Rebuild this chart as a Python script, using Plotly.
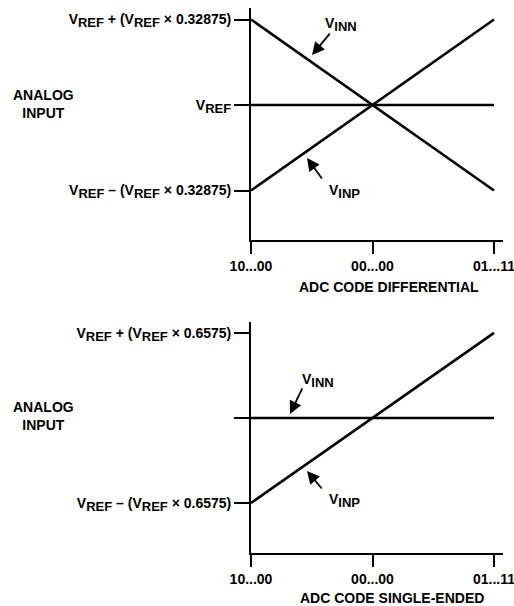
import plotly.graph_objects as go

W, H = 514, 606

# ---- data ----
codes = [-1, 0, 1]
code_labels = ["10...00", "00...00", "01...11"]

diff_vinn = [0.32875, 0.0, -0.32875]
diff_vinp = [-0.32875, 0.0, 0.32875]
diff_vref = [0.0, 0.0, 0.0]

se_vinn = [0.0, 0.0, 0.0]
se_vinp = [-0.6575, 0.0, 0.6575]

diff_ticks = [-0.32875, 0.0, 0.32875]
se_ticks = [-0.6575, 0.0, 0.6575]

SUB = lambda s: "<sub><span style='font-size:13px'>%s</span></sub>" % s
VREF = "V" + SUB("REF")
diff_ticktext = [VREF + " – (" + VREF + " × 0.32875)", VREF, VREF + " + (" + VREF + " × 0.32875)"]
se_ticktext = [VREF + " – (" + VREF + " × 0.6575)", "", VREF + " + (" + VREF + " × 0.6575)"]


def px(x):
    return x / W


def py(y):
    return 1 - y / H


FONT = dict(family="Liberation Sans, Arial, Helvetica, sans-serif", size=14, color="black", weight="bold")
LINE = dict(color="black", width=2.6)

fig = go.Figure()
fig.add_trace(go.Scatter(x=codes, y=diff_vinn, mode="lines", line=LINE, xaxis="x", yaxis="y"))
fig.add_trace(go.Scatter(x=codes, y=diff_vinp, mode="lines", line=LINE, xaxis="x", yaxis="y"))
fig.add_trace(go.Scatter(x=codes, y=diff_vref, mode="lines", line=LINE, xaxis="x", yaxis="y"))
fig.add_trace(go.Scatter(x=codes, y=se_vinn, mode="lines", line=LINE, xaxis="x2", yaxis="y2"))
fig.add_trace(go.Scatter(x=codes, y=se_vinp, mode="lines", line=LINE, xaxis="x2", yaxis="y2"))

ax_common = dict(showline=True, linewidth=2, linecolor="black", showgrid=False, zeroline=False,
                 ticks="outside", tickwidth=2, tickcolor="black", tickfont=FONT, fixedrange=True,
                 automargin=False, ticklabeloverflow="allow")

fig.update_layout(
    template="none",
    width=W, height=H, margin=dict(l=0, r=0, t=0, b=0, pad=0), autosize=False,
    paper_bgcolor="white", plot_bgcolor="white", showlegend=False,
    font=FONT, hovermode=False,
    xaxis=dict(domain=[px(251), px(503)], range=[-1, 1.074], anchor="y",
               tickvals=codes, ticktext=code_labels, ticklen=12, **ax_common),
    yaxis=dict(domain=[py(240), py(8)], range=[-0.519, 0.373], anchor="x",
               tickvals=diff_ticks, ticktext=diff_ticktext, ticklen=15, **ax_common),
    xaxis2=dict(domain=[px(251), px(503)], range=[-1, 1.074], anchor="y2",
                tickvals=codes, ticktext=code_labels, ticklen=12, **ax_common),
    yaxis2=dict(domain=[py(553), py(322)], range=[-1.044, 0.742], anchor="x2",
                tickvals=se_ticks, ticktext=se_ticktext, ticklen=15, **ax_common),
)

ann = []
# side labels
ann.append(dict(text="ANALOG<br>INPUT", x=px(43), y=py(104), xref="paper", yref="paper",
                showarrow=False, xanchor="center", yanchor="middle", font=FONT))
ann.append(dict(text="ANALOG<br>INPUT", x=px(43), y=py(416), xref="paper", yref="paper",
                showarrow=False, xanchor="center", yanchor="middle", font=FONT))
# axis titles
ann.append(dict(text="ADC CODE DIFFERENTIAL", x=px(389), y=py(287), xref="paper", yref="paper",
                showarrow=False, xanchor="center", yanchor="middle", font=FONT))
ann.append(dict(text="ADC CODE SINGLE-ENDED", x=px(392), y=py(598), xref="paper", yref="paper",
                showarrow=False, xanchor="center", yanchor="middle", font=FONT))
# series labels
ann.append(dict(text="V" + SUB("INN"), x=px(323), y=py(24), xref="paper", yref="paper",
                showarrow=False, xanchor="left", yanchor="middle", font=FONT))
ann.append(dict(text="V" + SUB("INP"), x=px(327), y=py(191), xref="paper", yref="paper",
                showarrow=False, xanchor="left", yanchor="middle", font=FONT))
ann.append(dict(text="V" + SUB("INN"), x=px(300), y=py(380), xref="paper", yref="paper",
                showarrow=False, xanchor="left", yanchor="middle", font=FONT))
ann.append(dict(text="V" + SUB("INP"), x=px(327), y=py(500), xref="paper", yref="paper",
                showarrow=False, xanchor="left", yanchor="middle", font=FONT))
# arrows
arrow = dict(text="", showarrow=True, arrowhead=2, arrowsize=1.4, arrowwidth=1.8, arrowcolor="black")
ann.append(dict(x=-0.498, y=0.192, xref="x", yref="y", ax=19, ay=-23, **arrow))
ann.append(dict(x=-0.539, y=-0.204, xref="x", yref="y", ax=16, ay=22, **arrow))
ann.append(dict(x=-0.679, y=0.031, xref="x2", yref="y2", ax=13, ay=-27, **arrow))
ann.append(dict(x=-0.539, y=-0.41, xref="x2", yref="y2", ax=16, ay=19, **arrow))
fig.update_layout(annotations=ann)

fig.write_html("out.html", config={"displayModeBar": False, "staticPlot": True},
               post_script="document.body.style.margin='0px';document.body.style.overflow='hidden';")
